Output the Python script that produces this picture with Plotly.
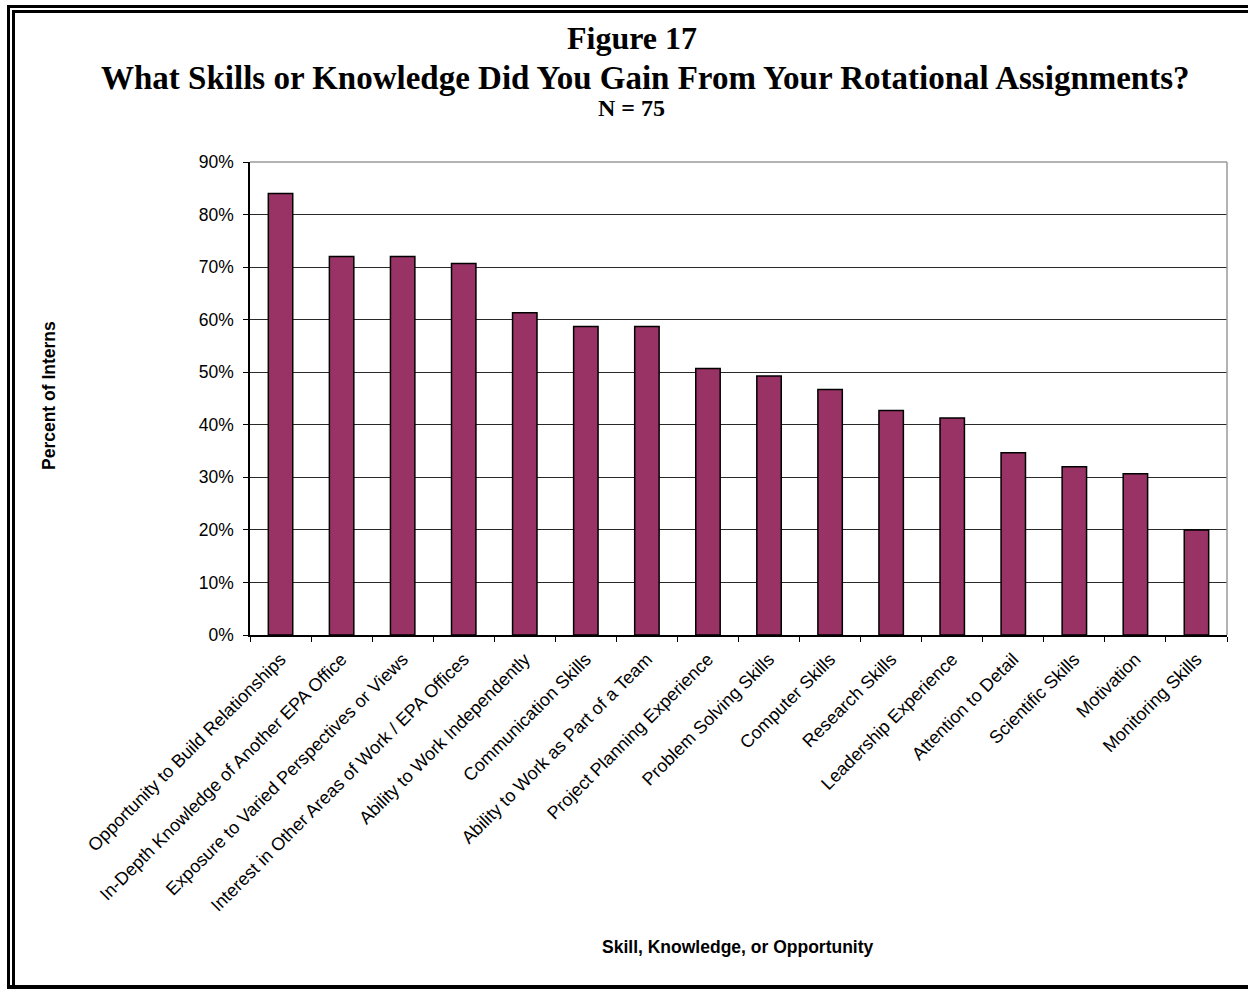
import plotly.graph_objects as go

# Survey results: share of interns reporting each skill (N = 75)
skills = [
    "Opportunity to Build Relationships",
    "In-Depth Knowledge of Another EPA Office",
    "Exposure to Varied Perspectives or Views",
    "Interest in Other Areas of Work / EPA Offices",
    "Ability to Work Independently",
    "Communication Skills",
    "Ability to Work as Part of a Team",
    "Project Planning Experience",
    "Problem Solving Skills",
    "Computer Skills",
    "Research Skills",
    "Leadership Experience",
    "Attention to Detail",
    "Scientific Skills",
    "Motivation",
    "Monitoring Skills",
]
percent_of_interns = [84.0, 72.0, 72.0, 70.7, 61.3, 58.7, 58.7, 50.7,
                      49.3, 46.7, 42.7, 41.3, 34.7, 32.0, 30.7, 20.0]
y_tick_values = [0, 10, 20, 30, 40, 50, 60, 70, 80, 90]
y_tick_labels = ["0%", "10%", "20%", "30%", "40%", "50%", "60%", "70%", "80%", "90%"]

W, H = 1248, 989
PLOT_L, PLOT_R, PLOT_T, PLOT_B = 250, 1227, 162, 635


def px_x(x):
    return (x - PLOT_L) / (PLOT_R - PLOT_L)


def px_y(y):
    return (PLOT_B - y) / (PLOT_B - PLOT_T)


SANS = "Liberation Sans, Arial, sans-serif"
SERIF = "Liberation Serif, Times New Roman, serif"

fig = go.Figure(
    go.Bar(
        x=skills,
        y=percent_of_interns,
        width=0.4,
        marker=dict(color="#993366", line=dict(color="#000000", width=1.5)),
        hoverinfo="x+y",
    )
)

fig.update_layout(
    width=W,
    height=H,
    margin=dict(l=PLOT_L, r=W - PLOT_R, t=PLOT_T, b=H - PLOT_B, autoexpand=False),
    paper_bgcolor="white",
    plot_bgcolor="white",
    showlegend=False,
    font=dict(family=SANS, color="black"),
)

fig.update_xaxes(
    type="category",
    tickangle=-45,
    tickson="boundaries",
    ticks="outside",
    ticklen=5,
    tickcolor="#000000",
    ticklabelstandoff=5,
    tickfont=dict(family=SANS, size=18, color="black"),
    showline=True,
    linecolor="#000000",
    linewidth=1.5,
    showgrid=False,
    automargin=False,
    range=[-0.5, len(skills) - 0.5],
)

fig.update_yaxes(
    range=[0, 90],
    tickvals=y_tick_values,
    ticktext=y_tick_labels,
    ticks="outside",
    ticklen=5,
    tickcolor="#000000",
    ticklabelstandoff=6,
    tickfont=dict(family=SANS, size=17.5, color="black"),
    showline=True,
    linecolor="#000000",
    linewidth=1.5,
    showgrid=True,
    gridcolor="#2a2a2a",
    gridwidth=1,
    zeroline=False,
    automargin=False,
)

shapes = []
# Plot-area frame on the top and right edges
shapes.append(dict(type="line", xref="paper", yref="paper", x0=0, x1=1, y0=1, y1=1,
                   line=dict(color="#9a9a9a", width=1.5), layer="above"))
shapes.append(dict(type="line", xref="paper", yref="paper", x0=1, x1=1, y0=0, y1=1,
                   line=dict(color="#9a9a9a", width=1.5), layer="above"))

# Double page frame
frame = [
    # (x0, y0, x1, y1, width)
    (7, 6.5, W + 5, 6.5, 3),      # top outer
    (12, 11.5, W + 5, 11.5, 3),   # top inner
    (8.5, 5, 8.5, 989, 3),        # left outer
    (13.5, 10, 13.5, 986, 3),     # left inner
    (7, 987, W + 5, 987, 4),      # bottom
]
for x0, y0, x1, y1, w in frame:
    shapes.append(dict(type="line", xref="paper", yref="paper",
                       x0=px_x(x0), x1=px_x(x1), y0=px_y(y0), y1=px_y(y1),
                       line=dict(color="#000000", width=w), layer="above"))
fig.update_layout(shapes=shapes)

annotations = [
    dict(text="<b>Figure 17</b>", x=px_x(632), y=px_y(38),
         font=dict(family=SERIF, size=32, color="black")),
    dict(text="<b>What Skills or Knowledge Did You Gain From Your Rotational Assignments?</b>",
         x=px_x(645), y=px_y(78), font=dict(family=SERIF, size=33, color="black")),
    dict(text="<b>N = 75</b>", x=px_x(631), y=px_y(108),
         font=dict(family=SERIF, size=24, color="black")),
    dict(text="<b>Skill, Knowledge, or Opportunity</b>", x=px_x(738), y=px_y(947),
         font=dict(family=SANS, size=17.5, color="black")),
    dict(text="<b>Percent of Interns</b>", x=px_x(49), y=px_y(396), textangle=-90,
         font=dict(family=SANS, size=17.5, color="black")),
]
for a in annotations:
    a.update(xref="paper", yref="paper", xanchor="center", yanchor="middle",
             showarrow=False)
fig.update_layout(annotations=annotations)

fig.write_html("out.html")
